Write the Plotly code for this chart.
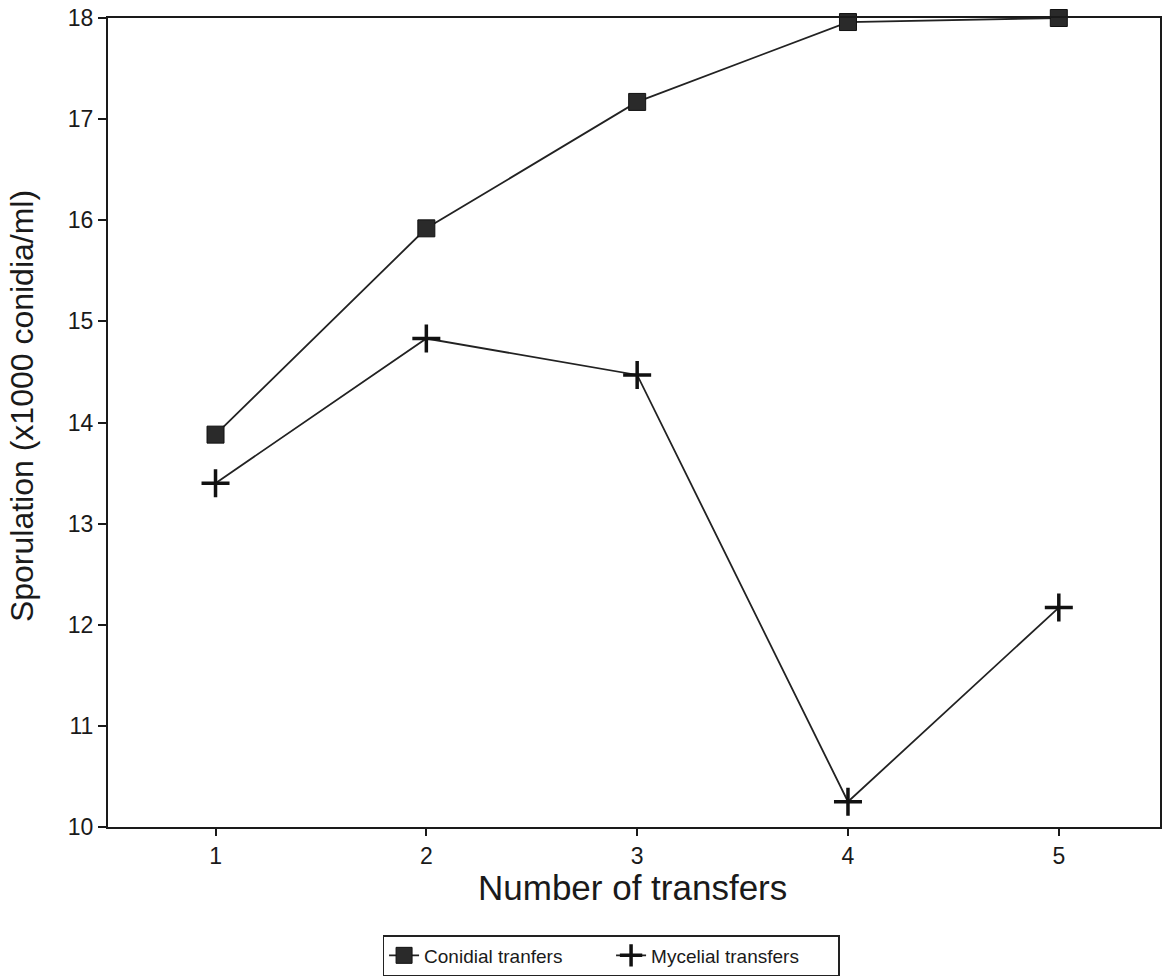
import plotly.graph_objects as go

transfers = [1, 2, 3, 4, 5]
conidial = [13.88, 15.92, 17.17, 17.96, 18.0]
mycelial = [13.40, 14.83, 14.47, 10.25, 12.17]
x_ticks = [1, 2, 3, 4, 5]
y_ticks = [10, 11, 12, 13, 14, 15, 16, 17, 18]

FONT = "Liberation Sans, Arial, sans-serif"

fig = go.Figure()
fig.add_trace(go.Scatter(
    x=transfers, y=conidial, name="Conidial tranfers",
    mode="lines+markers",
    line=dict(color="#222222", width=1.8),
    marker=dict(symbol="square", size=17, color="#2a2a2a",
                line=dict(color="#111111", width=1)),
    cliponaxis=False,
))
fig.add_trace(go.Scatter(
    x=transfers, y=mycelial, name="Mycelial transfers",
    mode="lines+markers",
    line=dict(color="#222222", width=1.8),
    marker=dict(symbol="cross-thin", size=20, color="#111111",
                line=dict(color="#111111", width=3.5)),
    cliponaxis=False,
))

fig.update_layout(
    width=1171, height=976,
    margin=dict(l=108, r=11, t=18, b=149, autoexpand=False),
    paper_bgcolor="white", plot_bgcolor="white",
    font=dict(family=FONT, color="#1a1a1a"),
    showlegend=True,
    legend=dict(
        orientation="h", x=0.261, xanchor="left", y=-0.1335, yanchor="top",
        bordercolor="#222222", borderwidth=1.5,
        font=dict(size=19, family=FONT, color="#1a1a1a"),
        bgcolor="white", entrywidth=182, entrywidthmode="pixels",
    ),
    xaxis=dict(
        range=[0.49, 5.48], tickvals=x_ticks, ticktext=[str(v) for v in x_ticks],
        showgrid=False, zeroline=False,
        showline=True, mirror=True, linecolor="#1a1a1a", linewidth=2,
        ticks="outside", ticklen=7, tickwidth=2, tickcolor="#1a1a1a",
        tickfont=dict(size=23, family=FONT, color="#1a1a1a"),
    ),
    yaxis=dict(
        range=[10, 18], tickvals=y_ticks, ticktext=[str(v) for v in y_ticks],
        showgrid=False, zeroline=False,
        showline=True, mirror=True, linecolor="#1a1a1a", linewidth=2,
        ticks="outside", ticklen=8, tickwidth=1.5, tickcolor="#1a1a1a",
        tickfont=dict(size=23, family=FONT, color="#1a1a1a"),
    ),
    annotations=[
        dict(text="Number of transfers", xref="paper", yref="paper",
             x=0.499, y=-0.075, xanchor="center", yanchor="middle",
             showarrow=False, font=dict(size=35, family=FONT, color="#1a1a1a")),
        dict(text="Sporulation (x1000 conidia/ml)", xref="paper", yref="paper",
             x=-0.081, y=0.520, xanchor="center", yanchor="middle", textangle=-90,
             showarrow=False, font=dict(size=32, family=FONT, color="#1a1a1a")),
    ],
)

fig.write_html("out.html")
